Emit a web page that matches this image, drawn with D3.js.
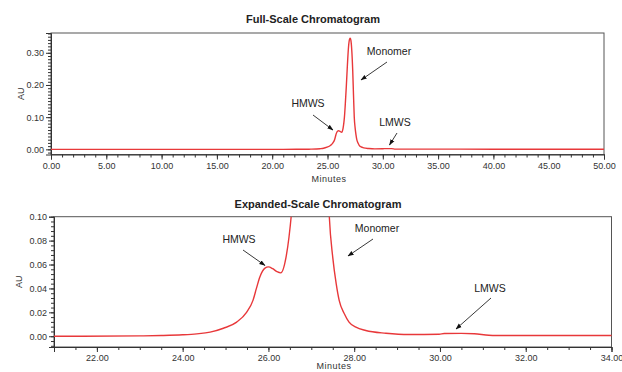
<!DOCTYPE html>
<html><head><meta charset="utf-8">
<script src="https://cdn.jsdelivr.net/npm/d3@7"></script>
<style>
body{margin:0;background:#fff;}
svg{display:block;font-family:"Liberation Sans",Arial,sans-serif;}
</style></head>
<body><svg id="c" width="622" height="372"></svg>
<script>
// ---- data (retention time in minutes, absorbance in AU) ----
const minutes = [0, 10, 21, 23, 23.5, 24.0, 24.33, 24.64, 24.95, 25.26, 25.49, 25.64, 25.72, 25.8, 25.92, 26.0, 26.1, 26.2, 26.29,
  26.41, 26.48, 26.53, 26.6, 26.7, 26.8, 26.9, 27.0, 27.06, 27.12, 27.2, 27.28, 27.35, 27.42, 27.5, 27.58, 27.65, 27.77, 27.88,
  28.04, 28.27, 28.74, 29.28, 29.98, 30.1, 30.5, 30.8, 31.14, 31.3, 34, 40, 50];
const au = [0, 0, 0, 0.0003, 0.0006, 0.0012, 0.002, 0.0034, 0.0067, 0.0118, 0.020, 0.030, 0.040, 0.0496, 0.057, 0.058, 0.0565, 0.054, 0.053,
  0.066, 0.083, 0.100, 0.135, 0.195, 0.262, 0.318, 0.343, 0.345, 0.338, 0.305, 0.245, 0.170, 0.100, 0.066, 0.044, 0.030, 0.0188, 0.0118,
  0.0076, 0.0048, 0.0025, 0.0014, 0.0017, 0.0023, 0.0024, 0.0021, 0.0008, 0.0006, 0.0006, 0.0005, 0.0005];

const fullXTicks = [0, 5, 10, 15, 20, 25, 30, 35, 40, 45, 50];
const fullYTicks = [0, 0.10, 0.20, 0.30];
const expXTicks = [22, 24, 26, 28, 30, 32, 34];
const expYTicks = [0, 0.02, 0.04, 0.06, 0.08, 0.10];

const titles = ["Full-Scale Chromatogram", "Expanded-Scale Chromatogram"];
const fullNotes = [
  {label: "HMWS", tx: 308, ty: 107, x1: 313, y1: 115, x2: 333, y2: 130},
  {label: "Monomer", tx: 389, ty: 55, x1: 387, y1: 62, x2: 361, y2: 80},
  {label: "LMWS", tx: 395, ty: 126, x1: 397, y1: 133, x2: 389.5, y2: 145}
];
const expNotes = [
  {label: "HMWS", tx: 239, ty: 243, x1: 243, y1: 250, x2: 265, y2: 265.5},
  {label: "Monomer", tx: 377, ty: 231.5, x1: 373, y1: 239, x2: 348, y2: 256},
  {label: "LMWS", tx: 490, ty: 291.5, x1: 491, y1: 298, x2: 456, y2: 329}
];

const data = minutes.map((m, i) => ({m, v: au[i]}));
const svg = d3.select("#c");
const red = "#e8383a";

svg.append("defs").append("marker")
  .attr("id", "arr").attr("viewBox", "0 0 10 10").attr("refX", 9).attr("refY", 5)
  .attr("markerWidth", 7).attr("markerHeight", 7).attr("orient", "auto")
  .append("path").attr("d", "M0,1.5 L10,5 L0,8.5 Z").attr("fill", "#111");

function panel(cfg) {
  const x = d3.scaleLinear().domain(cfg.xd).range([cfg.l, cfg.r]);
  const y = d3.scaleLinear().domain(cfg.yd).range([cfg.b, cfg.t]);
  const g = svg.append("g");
  const id = "clip" + cfg.key;
  svg.select("defs").append("clipPath").attr("id", id)
    .append("rect").attr("x", cfg.l).attr("y", cfg.t).attr("width", cfg.r - cfg.l).attr("height", cfg.b - cfg.t);

  // frame
  g.append("rect").attr("x", cfg.l).attr("y", cfg.t).attr("width", cfg.r - cfg.l).attr("height", cfg.b - cfg.t)
    .attr("fill", "none").attr("stroke", "#555").attr("stroke-width", 1);

  // minor ticks
  const minorX = d3.range(cfg.xd[0], cfg.xd[1] + 1e-9, cfg.xMinor).map(v => +v.toFixed(3));
  const minorY = d3.range(cfg.yMinorStart, cfg.yd[1] + 1e-9, cfg.yMinor).map(v => +v.toFixed(4));
  g.append("g").attr("transform", `translate(0,${cfg.b})`)
    .call(d3.axisBottom(x).tickValues(minorX).tickSize(3).tickFormat(""))
    .call(s => s.select(".domain").remove());
  g.append("g").attr("transform", `translate(${cfg.l},0)`)
    .call(d3.axisLeft(y).tickValues(minorY).tickSize(3).tickFormat(""))
    .call(s => s.select(".domain").remove());

  // major axes
  const ax = g.append("g").attr("transform", `translate(0,${cfg.b})`)
    .call(d3.axisBottom(x).tickValues(cfg.xt).tickSize(5).tickPadding(3).tickFormat(d3.format(".2f")));
  const ay = g.append("g").attr("transform", `translate(${cfg.l},0)`)
    .call(d3.axisLeft(y).tickValues(cfg.yt).tickSize(5).tickPadding(2).tickFormat(d3.format(".2f")));
  [ax, ay].forEach(a => {
    a.selectAll("text").attr("font-size", 9).attr("fill", "#333").attr("font-family", "'Liberation Sans', Arial, sans-serif");
    a.select(".domain").attr("stroke", "#333");
  });
  g.selectAll(".tick line").attr("stroke", "#333");

  // curve
  g.append("path").datum(data).attr("clip-path", `url(#${id})`)
    .attr("fill", "none").attr("stroke", red).attr("stroke-width", 1.4).attr("stroke-linejoin", "round")
    .attr("d", d3.line().x(d => x(d.m)).y(d => y(d.v)).curve(d3.curveMonotoneX));

  // labels
  g.append("text").attr("x", cfg.titleX).attr("y", cfg.titleY).attr("text-anchor", "middle")
    .attr("font-size", 11).attr("font-weight", "bold").attr("fill", "#222").text(cfg.title);
  g.append("text").attr("x", cfg.minX).attr("y", cfg.minY).attr("text-anchor", "middle")
    .attr("font-size", 9).attr("fill", "#333").attr("letter-spacing", "0.5").text("Minutes");
  g.append("text").attr("transform", `translate(${cfg.auX},${(cfg.t + cfg.b) / 2}) rotate(-90)`)
    .attr("text-anchor", "middle").attr("font-size", 9).attr("fill", "#333").text("AU");

  // annotations
  cfg.notes.forEach(n => {
    g.append("text").attr("x", n.tx).attr("y", n.ty).attr("text-anchor", "middle")
      .attr("font-size", 10.5).attr("fill", "#222").text(n.label);
    g.append("line").attr("x1", n.x1).attr("y1", n.y1).attr("x2", n.x2).attr("y2", n.y2)
      .attr("stroke", "#222").attr("stroke-width", 0.9).attr("marker-end", "url(#arr)");
  });
}

panel({key: "full", xd: [0, 50], yd: [-0.016, 0.3615], l: 51, r: 604, t: 33, b: 154.5,
  xt: fullXTicks, yt: fullYTicks, xMinor: 1, yMinor: 0.01, yMinorStart: -0.01,
  title: titles[0], titleX: 313, titleY: 23, minX: 329, minY: 182, auX: 24, notes: fullNotes});
panel({key: "exp", xd: [21, 34], yd: [-0.009, 0.1], l: 54, r: 611.5, t: 216.7, b: 347,
  xt: expXTicks, yt: expYTicks, xMinor: 0.5, yMinor: 0.004, yMinorStart: -0.008,
  title: titles[1], titleX: 318, titleY: 208, minX: 334, minY: 369, auX: 22, notes: expNotes});
</script></body></html>
